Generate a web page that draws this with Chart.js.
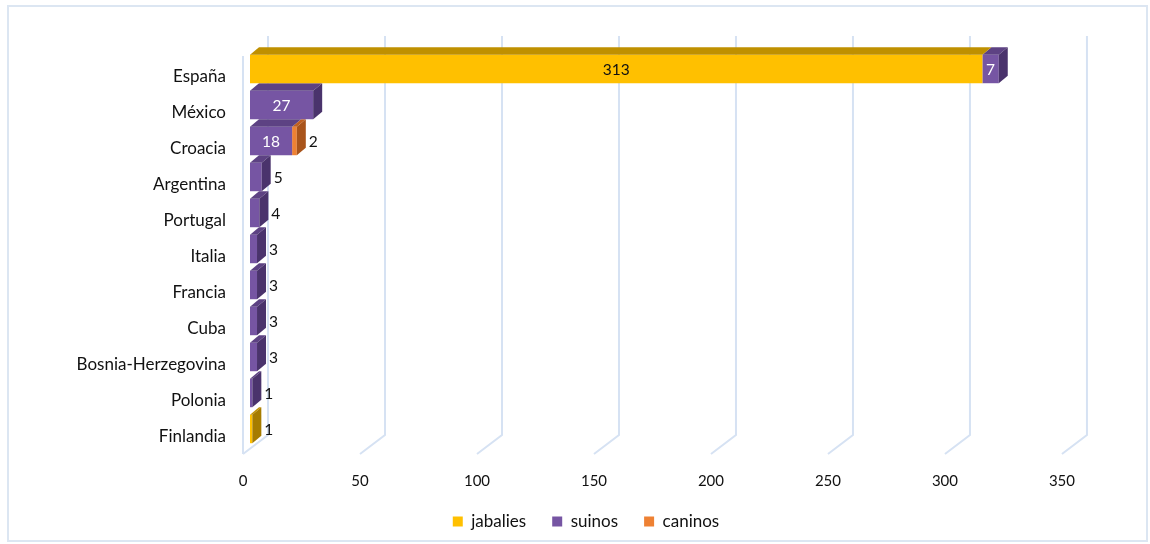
<!DOCTYPE html>
<html lang="es">
<head>
<meta charset="UTF-8">
<title>Casos por país</title>
<script src="https://cdn.jsdelivr.net/npm/chart.js"></script>
<style>
  body { margin: 0; background: #fff; }
  .wrap { position: relative; width: 1150px; height: 544px; }
  .frame {
    position: absolute; left: 7px; top: 5px; width: 1141px; height: 537px;
    border: 2px solid #dce6f2; box-sizing: border-box; pointer-events: none;
  }
  canvas { position: absolute; left: 0; top: 0; }
</style>
</head>
<body>
<div class="wrap">
  <canvas id="chart" width="1150" height="544"></canvas>
  <div class="frame"></div>
</div>
<script>
// datos por país
const paises = ['España', 'México', 'Croacia', 'Argentina', 'Portugal', 'Italia',
                'Francia', 'Cuba', 'Bosnia-Herzegovina', 'Polonia', 'Finlandia'];
const jabalies = [313, null, null, null, null, null, null, null, null, null, 1];
const suinos   = [7, 27, 18, 5, 4, 3, 3, 3, 3, 1, null];
const caninos  = [null, null, 2, null, null, null, null, null, null, null, null];
const ticksX   = [0, 50, 100, 150, 200, 250, 300, 350];

const FONT = 'Lato, "Open Sans", sans-serif';
const DX = 9, DY = 7.5;   // profundidad de las barras

// caras superior y lateral de cada serie
const caras = [
  { top: '#bf9000', side: '#a67c00' },
  { top: '#5d4283', side: '#4a336c' },
  { top: '#c0601f', side: '#a9541b' }
];

// pared del fondo y suelo en perspectiva
const pared3d = {
  id: 'pared3d',
  beforeDatasetsDraw(chart) {
    const { ctx, chartArea: a, scales: { x } } = chart;
    ctx.save();
    ctx.strokeStyle = '#d6e2f3';
    ctx.lineWidth = 2;
    ticksX.forEach(v => {
      const px = x.getPixelForValue(v);
      ctx.beginPath();
      ctx.moveTo(px - 7, a.bottom + 7);
      ctx.lineTo(px + 18, a.bottom - 12);
      ctx.lineTo(px + 18, a.top - 15);
      ctx.stroke();
    });
    const p0 = x.getPixelForValue(0);
    ctx.beginPath();
    ctx.moveTo(p0 - 7, a.top + 5);
    ctx.lineTo(p0 - 7, a.bottom + 7);
    ctx.stroke();
    ctx.restore();
  }
};

// ¿hay otro segmento apilado a la derecha?
function tieneSiguiente(chart, i, j) {
  return chart.data.datasets.some((ds, k) => k > i && ds.data[j] != null);
}

const barras3d = {
  id: 'barras3d',
  afterDatasetDraw(chart, args) {
    const ctx = chart.ctx;
    const c = caras[args.index];
    const data = chart.data.datasets[args.index].data;
    args.meta.data.forEach((bar, j) => {
      if (data[j] == null) return;
      const { x, y, base, height } = bar.getProps(['x', 'y', 'base', 'height'], true);
      const t = y - height / 2, b = y + height / 2;
      ctx.save();
      ctx.fillStyle = c.top;
      ctx.beginPath();
      ctx.moveTo(base, t);
      ctx.lineTo(base + DX, t - DY);
      ctx.lineTo(x + DX, t - DY);
      ctx.lineTo(x, t);
      ctx.closePath();
      ctx.fill();
      if (!tieneSiguiente(chart, args.index, j)) {
        ctx.fillStyle = c.side;
        ctx.beginPath();
        ctx.moveTo(x, t);
        ctx.lineTo(x + DX, t - DY);
        ctx.lineTo(x + DX, b - DY);
        ctx.lineTo(x, b);
        ctx.closePath();
        ctx.fill();
      }
      ctx.restore();
    });
  },
  afterDatasetsDraw(chart) {
    const ctx = chart.ctx;
    ctx.save();
    ctx.font = '15.5px ' + FONT;
    ctx.textBaseline = 'middle';
    chart.data.datasets.forEach((ds, i) => {
      chart.getDatasetMeta(i).data.forEach((bar, j) => {
        const v = ds.data[j];
        if (v == null) return;
        const { x, y, base } = bar.getProps(['x', 'y', 'base'], true);
        if (x - base >= 14) {
          ctx.textAlign = 'center';
          ctx.fillStyle = i === 0 ? '#111' : '#fff';
          ctx.fillText(v, (x + base) / 2, y + 1);
        } else {
          ctx.textAlign = 'left';
          ctx.fillStyle = '#111';
          ctx.fillText(v, x + DX + 3, y + 1);
        }
      });
    });
    ctx.restore();
  }
};

new Chart(document.getElementById('chart'), {
  type: 'bar',
  data: {
    labels: paises,
    datasets: [
      { label: 'jabalies', data: jabalies, backgroundColor: '#ffc000' },
      { label: 'suinos',   data: suinos,   backgroundColor: '#7655a3' },
      { label: 'caninos',  data: caninos,  backgroundColor: '#ee8133' }
    ]
  },
  options: {
    indexAxis: 'y',
    responsive: false,
    animation: false,
    borderWidth: 0,
    categoryPercentage: 1,
    barPercentage: 0.79,
    layout: { padding: { top: 51, left: 60, right: 38, bottom: 4 } },
    scales: {
      x: {
        stacked: true, min: 0, max: 368.4,
        afterBuildTicks(s) { s.ticks = ticksX.map(v => ({ value: v })); },
        afterFit(s) { s.height = 40; },
        grid: { display: false, drawTicks: false },
        border: { display: false },
        ticks: { labelOffset: -7, padding: 25, color: '#111', font: { family: FONT, size: 15 } }
      },
      y: {
        stacked: true,
        afterFit(s) { s.width = 190; },
        grid: { display: false, drawTicks: false },
        border: { display: false },
        ticks: { padding: 24, labelOffset: 7.5, color: '#111', font: { family: FONT, size: 17 } }
      }
    },
    plugins: {
      legend: {
        position: 'bottom',
        labels: { boxWidth: 10, boxHeight: 10, padding: 26, color: '#111', font: { family: FONT, size: 17 } }
      },
      tooltip: { enabled: false }
    }
  },
  plugins: [pared3d, barras3d]
});
</script>
</body>
</html>
